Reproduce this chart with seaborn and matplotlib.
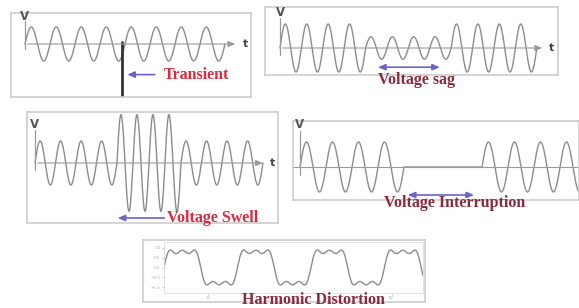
import numpy as np
import pandas as pd
import matplotlib.pyplot as plt
import seaborn as sns

# amplitude of every half cycle (1 = nominal voltage)
transient_amps = [1.0] * 16
transient_time = 3.88      # cycles
transient_depth = -3.1

sag_amps = [1.0] * 8 + [0.47] * 8 + [1.0] * 8
swell_amps = [1.0] * 8 + [2.2] * 8 + [1.0] * 8
# the swell cycles in the picture are also shorter
swell_widths = [0.5] * 8 + [0.39] * 8 + [0.5] * 8
interrupt_amps = [1.0] * 8 + [0.0] * 6 + [1.0] * 8

# harmonic distortion: order and relative magnitude
harmonic_orders = [1, 3, 5]
harmonic_mags = [1.0, 0.3, 0.18]
harmonic_period_ms = 20.0
harmonic_span_ms = 70.5
harmonic_yticks = [-1, -0.5, 0, 0.5, 1]
harmonic_xticks = [12, 62]

W, H = 579, 308
WAVE = '#8c8c8c'
FRAME = '#cdcdcd'
BLUE = '#6b63c9'
RED = '#e0283c'
DARKRED = '#8c2a3c'
SERIF = 'Liberation Serif'
LABEL_SIZE = 11.5

sns.set_theme(style='white')
fig = plt.figure(figsize=(W / 100, H / 100), dpi=100)


def px_rect(x0, y0, x1, y1):
    return [x0 / W, 1 - y1 / H, (x1 - x0) / W, (y1 - y0) / H]


def wave_frame(half_amps, half_widths=None):
    if half_widths is None:
        half_widths = [0.5] * len(half_amps)
    ts, vs = [], []
    n = len(half_amps)
    start = 0.0
    for i, (a, w) in enumerate(zip(half_amps, half_widths)):
        u = np.linspace(0, 1, 30, endpoint=(i == n - 1))
        ts.append(start + u * w)
        vs.append(a * np.sin(np.pi * u) * (1 if i % 2 == 0 else -1))
        start += w
    return pd.DataFrame({'t': np.concatenate(ts), 'v': np.concatenate(vs)})


def panel(box, t0, period, axis_y, amp):
    x0, y0, x1, y1 = box
    ax = fig.add_axes(px_rect(*box))
    ax.set_xlim((x0 - t0) / period, (x1 - t0) / period)
    ax.set_ylim(-(y1 - axis_y) / amp, (axis_y - y0) / amp)
    ax.set_xticks([])
    ax.set_yticks([])
    ax.set_facecolor('white')
    for s in ax.spines.values():
        s.set_color(FRAME)
        s.set_linewidth(1.2)
    return ax


def draw_wave(ax, df, t_axis_end, vtop, show_t=True):
    sns.lineplot(data=df, x='t', y='v', ax=ax, color=WAVE, lw=1.0,
                 estimator=None, sort=False)
    ax.set_xlabel('')
    ax.set_ylabel('')
    if show_t:
        ax.annotate('', xy=(t_axis_end, 0), xytext=(0, 0),
                    arrowprops=dict(arrowstyle='-|>,head_length=0.35,head_width=0.15',
                                    color='#9a9a9a', lw=0.8))
        ax.text(t_axis_end + 0.2, 0, 't', fontsize=8, fontweight='bold',
                color='#444444', va='center', ha='left')
    else:
        ax.axhline(0, color='#9a9a9a', lw=0.8)
    ax.plot([0, 0], [-0.3, vtop - 0.25], color='#9a9a9a', lw=0.9)
    ax.text(0, vtop, 'V', fontsize=8.5, fontweight='bold', color='#555555',
            ha='center', va='center')


def span_arrow(ax, t_a, t_b, y, style):
    ax.annotate('', xy=(t_b, y), xytext=(t_a, y), annotation_clip=False,
                arrowprops=dict(arrowstyle=style + ',head_length=0.35,head_width=0.15',
                                color=BLUE, lw=1.2))


# transient
ax1 = panel((11, 13, 251, 97), 25, 25, 44, 17)
draw_wave(ax1, wave_frame(transient_amps), 8.52, 1.6)
ax1.plot([transient_time, transient_time], [0.1, transient_depth],
         color='#333333', lw=2.0)
span_arrow(ax1, 5.3, transient_time + 0.1, -1.8, '-|>')
ax1.text(5.55, -1.8, 'Transient', color=RED, fontsize=LABEL_SIZE, fontweight='bold',
         family=SERIF, va='center', ha='left')

# voltage sag
ax2 = panel((265, 7, 558, 75), 280, 21.4, 48, 24)
draw_wave(ax2, wave_frame(sag_amps), 12.38, 1.5)
span_arrow(ax2, 4.45, 7.6, -0.8, '<|-|>')
ax2.text(6.4, -1.35, 'Voltage sag', color=DARKRED, fontsize=LABEL_SIZE,
         fontweight='bold', family=SERIF, va='center', ha='center', clip_on=False)

# voltage swell
ax3 = panel((27, 112, 278, 223), 35, 20.5, 163, 22)
draw_wave(ax3, wave_frame(swell_amps, swell_widths), 11.25, 1.73)
span_arrow(ax3, 6.45, 3.9, -2.5, '-|>')
ax3.text(6.45, -2.5, 'Voltage Swell', color=RED, fontsize=LABEL_SIZE,
         fontweight='bold', family=SERIF, va='center', ha='left')

# voltage interruption
ax4 = panel((293, 121, 579, 200), 300, 26, 167, 25)
draw_wave(ax4, wave_frame(interrupt_amps), 12, 1.68, show_t=False)
span_arrow(ax4, 4.04, 6.8, -1.12, '<|-|>')
ax4.text(5.95, -1.44, 'Voltage Interruption', color=DARKRED, fontsize=LABEL_SIZE,
         fontweight='bold', family=SERIF, va='center', ha='center', clip_on=False)

# harmonic distortion
frame = fig.add_axes(px_rect(143, 240, 425, 302))
frame.set_xticks([])
frame.set_yticks([])
for s in frame.spines.values():
    s.set_color(FRAME)
    s.set_linewidth(1.2)

ax5 = fig.add_axes(px_rect(164, 242, 423, 293))
t_ms = np.linspace(0, harmonic_span_ms, 600)
v = np.zeros_like(t_ms)
for order, mag in zip(harmonic_orders, harmonic_mags):
    v += mag * np.sin(2 * np.pi * order * t_ms / harmonic_period_ms)
sns.lineplot(x=t_ms, y=v, ax=ax5, color=WAVE, lw=1.0)
ax5.set_xlim(0, harmonic_span_ms)
ax5.set_ylim(-1.3, 1.3)
ax5.set_xticks(harmonic_xticks)
ax5.set_yticks(harmonic_yticks)
ax5.tick_params(labelsize=3, colors='#b0b0b0', length=1.5, width=0.5,
                pad=1, left=True, bottom=True)
for s in ax5.spines.values():
    s.set_color('#dddddd')
    s.set_linewidth(0.6)
fig.text(313 / W, 1 - 300 / H, 'Harmonic Distortion', color=DARKRED,
         fontsize=LABEL_SIZE, fontweight='bold', family=SERIF,
         va='center', ha='center')

fig.savefig('out.png', dpi=100)
